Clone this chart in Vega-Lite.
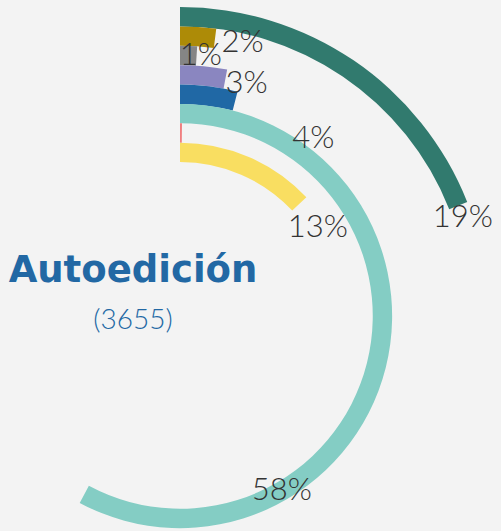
{
  "$schema": "https://vega.github.io/schema/vega-lite/v6.json",
  "width": 360,
  "height": 430,
  "autosize": {"type": "none"},
  "padding": {"left": 0, "top": 101, "right": 141, "bottom": 0},
  "background": "#f3f3f3",
  "config": {"view": {"stroke": null}},
  "title": {
    "text": "Autoedición",
    "subtitle": "(3655)",
    "anchor": "start",
    "frame": "group",
    "align": "center",
    "orient": "top",
    "dx": 133,
    "offset": -329,
    "font": "DejaVu Sans",
    "fontWeight": "bold",
    "fontSize": 37,
    "color": "#2268a4",
    "subtitleFont": "Lato",
    "subtitleFontWeight": 300,
    "subtitleFontSize": 28,
    "subtitleColor": "#2268a4",
    "subtitlePadding": 17
  },
  "data": {
    "values": [
      {"cat": "A", "count": 694},
      {"cat": "B", "count": 73},
      {"cat": "C", "count": 37},
      {"cat": "D", "count": 110},
      {"cat": "E", "count": 146},
      {"cat": "F", "count": 2114},
      {"cat": "G", "count": 6},
      {"cat": "H", "count": 475}
    ]
  },
  "transform": [
    {"window": [{"op": "row_number", "as": "ring"}]},
    {"joinaggregate": [{"op": "sum", "field": "count", "as": "total"}]},
    {"calculate": "datum.ring - 1", "as": "ring0"},
    {"calculate": "datum.ring - 0.5", "as": "ringMid"},
    {"calculate": "datum.count / datum.total", "as": "share"}
  ],
  "layer": [
    {
      "mark": {"type": "arc"},
      "encoding": {
        "theta": {"field": "share", "type": "quantitative", "stack": null, "scale": {"domain": [0, 1], "range": [0, 6.283185307]}},
        "theta2": {"datum": 0},
        "radius": {"field": "ring0", "type": "quantitative", "scale": {"type": "linear", "zero": false, "domain": [0, 8], "range": [309, 154]}},
        "radius2": {"field": "ring"},
        "color": {
          "field": "cat",
          "type": "nominal",
          "legend": null,
          "scale": {
            "domain": ["A", "B", "C", "D", "E", "F", "G", "H"],
            "range": ["#317a6e", "#ad8b07", "#858585", "#8a86c0", "#2068a5", "#84cdc4", "#f07f80", "#f9de61"]
          }
        }
      }
    },
    {
      "transform": [{"filter": "datum.share >= 0.005"}],
      "mark": {"type": "text", "font": "Lato", "fontWeight": 300, "fontSize": 31, "color": "#333333", "align": "center", "baseline": "middle"},
      "encoding": {
        "theta": {"field": "share", "type": "quantitative", "stack": null, "scale": {"type": "linear", "domain": [0, 0.01, 0.02, 0.03, 0.04, 0.19, 0.5784], "range": [0, 0.0785, 0.2262, 0.2765, 0.647, 1.238, 2.614]}},
        "radius": {"field": "ringMid", "type": "quantitative"},
        "text": {"field": "share", "type": "quantitative", "format": ".0%"}
      }
    }
  ],
  "resolve": {"scale": {"theta": "independent"}}
}
